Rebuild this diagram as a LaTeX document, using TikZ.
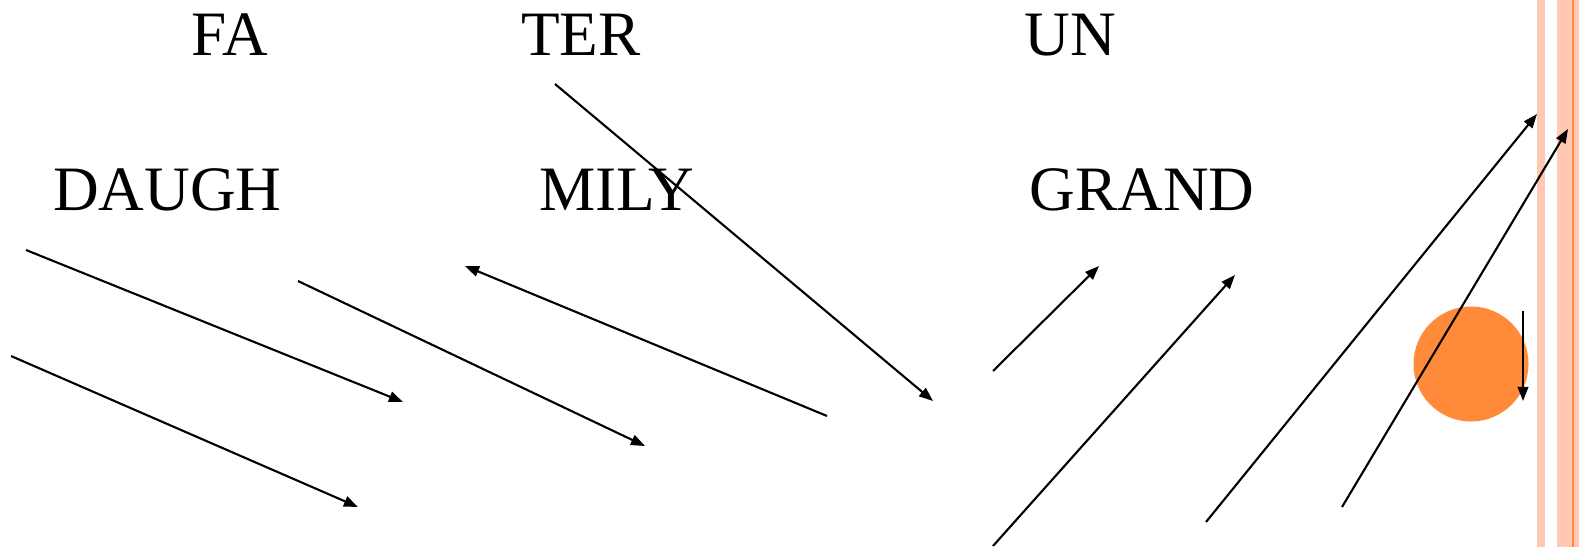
\documentclass[tikz,border=0pt]{standalone}
\usepackage{fontspec}
\setmainfont{Liberation Serif}
\usetikzlibrary{arrows.meta}
\definecolor{ballorange}{RGB}{255,139,58}
\definecolor{stripepink}{RGB}{255,200,180}
\tikzstyle{word}=[anchor=base,inner sep=0pt,font=\fontsize{36}{43}\selectfont]
\tikzstyle{pointer}=[line width=1.2pt,-{Triangle[length=8pt,width=6pt]}]

\begin{document}
\begin{tikzpicture}[x=0.02cm,y=-0.02cm]
\useasboundingbox (0,0) rectangle (1579,547);

% stripes at the right edge
\fill[stripepink] (1537,0) rectangle (1545,547);
\fill[stripepink] (1557,0) rectangle (1579,547);
\fill[ballorange] (1572,0) rectangle (1574,547);

\fill[ballorange] (1471,364) circle (57.5);

\node[word] (fa) at (230,55.5) {FA};
\node[word] (ter) at (581,55.5) {TER};
\node[word] (un) at (1070,55.5) {UN};
\node[word] (daugh) at (167.5,211) {DAUGH};
\node[word] (mily) at (617,211) {MILY};
\node[word] (grand) at (1142,211) {GRAND};

\coordinate (a1) at (26,250);
\coordinate (b1) at (403,402);
\coordinate (a2) at (11,356);
\coordinate (b2) at (358,507);
\coordinate (a3) at (298,281);
\coordinate (b3) at (645,446);
\coordinate (a4) at (827,416);
\coordinate (b4) at (465,266);
\coordinate (a5) at (555,84);
\coordinate (b5) at (933,401);
\coordinate (a6) at (993,371);
\coordinate (b6) at (1099,266);
\coordinate (a7) at (993,546);
\coordinate (b7) at (1235,275);
\coordinate (a8) at (1206,522);
\coordinate (b8) at (1537,114);
\coordinate (a9) at (1342,507);
\coordinate (b9) at (1568,129);
\coordinate (a10) at (1523,311);
\coordinate (b10) at (1523,401);

\draw[pointer] (a1)--(b1);
\draw[pointer] (a2)--(b2);
\draw[pointer] (a3)--(b3);
\draw[pointer] (a4)--(b4);
\draw[pointer] (a5)--(b5);
\draw[pointer] (a6)--(b6);
\draw[pointer] (a7)--(b7);
\draw[pointer] (a8)--(b8);
\draw[pointer] (a9)--(b9);
\draw[pointer] (a10)--(b10);
\end{tikzpicture}
\end{document}
